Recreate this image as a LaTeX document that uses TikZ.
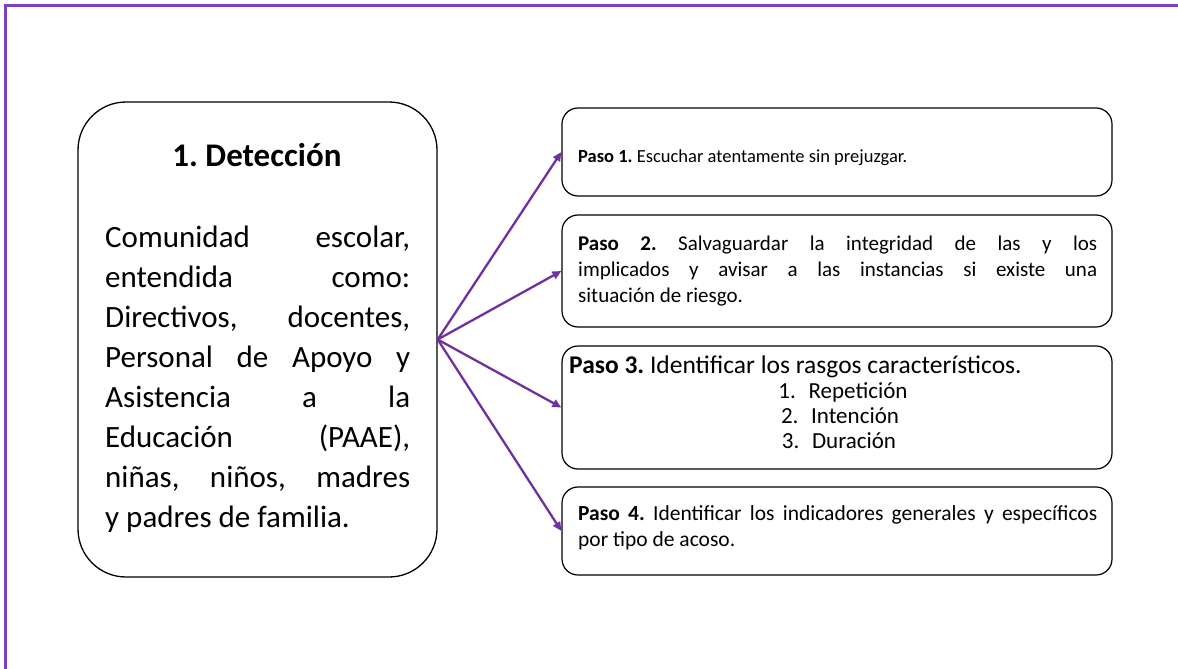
\documentclass[tikz,border=0pt]{standalone}
\usepackage{fontspec}
\setmainfont{Carlito}
\usetikzlibrary{arrows.meta}
\definecolor{framecol}{HTML}{7E3FBF}
\definecolor{arrcol}{HTML}{7030A0}
\frenchspacing
\tikzset{
  bigbox/.style={draw=black, line width=1.3pt, rounded corners=48pt, minimum width=359pt, minimum height=475pt, inner sep=0pt},
  stepbox/.style={draw=black, line width=1.2pt, rounded corners=16pt, minimum width=550pt, inner sep=0pt},
  bodyline/.style={anchor=base west, inner sep=0pt, font=\fontsize{31}{40}\selectfont},
  titletext/.style={anchor=base, inner sep=0pt, font=\fontsize{33}{37}\selectfont\bfseries},
  steptext/.style={anchor=base west, inner sep=0pt, font=\fontsize{19.5}{25}\selectfont},
  steptextc/.style={anchor=base, inner sep=0pt, font=\fontsize{23}{25}\selectfont},
  link/.style={draw=arrcol, line width=2.3pt, -{Triangle[length=9pt,width=8pt]}}
}
\begin{document}
\begin{tikzpicture}[x=1pt,y=-1pt]
\useasboundingbox (0,0) rectangle (1178,669);
\fill[white] (0,0) rectangle (1178,669);
\draw[framecol, line width=3pt] (5,669) -- (5,6) -- (1178,6);

% left box
\node[bigbox] (det) at (257.5,339.5) {};
\node[titletext] (title) at (257,166) {1. Detección};
\node[bodyline] (l1) at (105,247) {\makebox[305pt][s]{Comunidad escolar,}};
\node[bodyline] (l2) at (105,287) {\makebox[305pt][s]{entendida como:}};
\node[bodyline] (l3) at (105,327) {\makebox[305pt][s]{Directivos, docentes,}};
\node[bodyline] (l4) at (105,367) {\makebox[305pt][s]{Personal de Apoyo y}};
\node[bodyline] (l5) at (105,407) {\makebox[305pt][s]{Asistencia a la}};
\node[bodyline] (l6) at (105,447) {\makebox[305pt][s]{Educación (PAAE),}};
\node[bodyline] (l7) at (105,487) {\makebox[305pt][s]{niñas, niños, madres}};
\node[bodyline] (l8) at (105,527) {y padres de familia.};

% step boxes
\node[stepbox, minimum height=88pt] (p1) at (837,152) {};
\node[stepbox, minimum height=112pt] (p2) at (837,271) {};
\node[stepbox, minimum height=123pt] (p3) at (837,407.5) {};
\node[stepbox, minimum height=88pt] (p4) at (837,531) {};

\node[steptext, font=\fontsize{18.5}{25}\selectfont] (t1) at (578,162) {\textbf{Paso 1.} Escuchar atentamente sin prejuzgar.};

\node[steptext, font=\fontsize{21}{26}\selectfont] (t2a) at (578,250) {\makebox[519pt][s]{\textbf{Paso 2.} Salvaguardar la integridad de las y los}};
\node[steptext, font=\fontsize{21}{26}\selectfont] (t2b) at (578,276) {\makebox[519pt][s]{implicados y avisar a las instancias si existe una}};
\node[steptext, font=\fontsize{21}{26}\selectfont] (t2c) at (578,302) {situación de riesgo.};

\node[steptext, font=\fontsize{25.5}{25}\selectfont] (t3) at (569,373) {\textbf{Paso 3.} Identificar los rasgos característicos.};
\node[steptextc] (t3a) at (843,398) {1.\hspace{0.55em}Repetición};
\node[steptextc] (t3b) at (840,423) {2.\hspace{0.55em}Intención};
\node[steptextc] (t3c) at (839,448) {3.\hspace{0.55em}Duración};

\node[steptext, font=\fontsize{21.5}{26}\selectfont] (t4a) at (578,520) {\makebox[519pt][s]{\textbf{Paso 4.} Identificar los indicadores generales y específicos}};
\node[steptext, font=\fontsize{21.5}{26}\selectfont] (t4b) at (578,546) {por tipo de acoso.};

% connectors
\draw[link] (det.east) -- (p1.west);
\draw[link] (det.east) -- (p2.west);
\draw[link] (det.east) -- (p3.west);
\draw[link] (det.east) -- (p4.west);
\end{tikzpicture}
\end{document}
